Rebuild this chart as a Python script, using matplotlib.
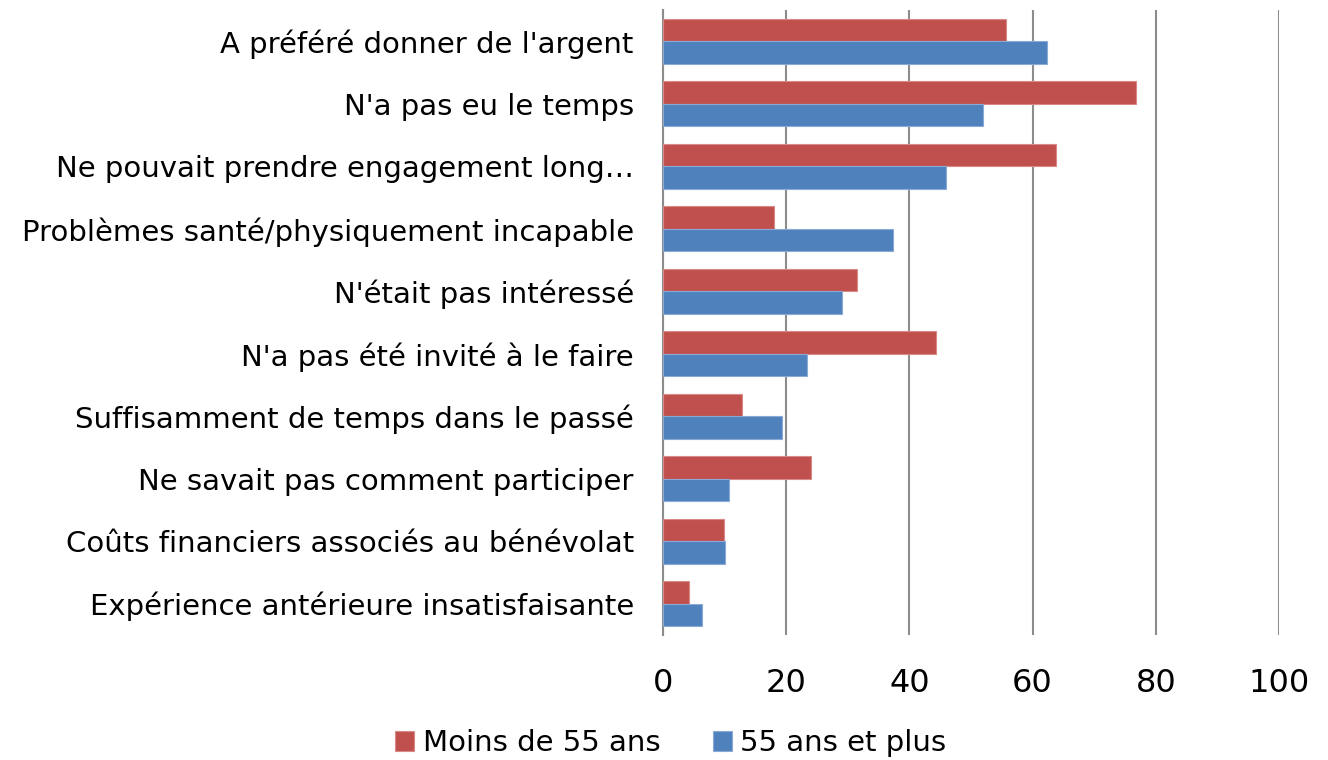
import numpy as np
import matplotlib
matplotlib.use("Agg")
import matplotlib.pyplot as plt

categories = [
    "A préféré donner de l'argent",
    "N'a pas eu le temps",
    "Ne pouvait prendre engagement long…",
    "Problèmes santé/physiquement incapable",
    "N'était pas intéressé",
    "N'a pas été invité à le faire",
    "Suffisamment de temps dans le passé",
    "Ne savait pas comment participer",
    "Coûts financiers associés au bénévolat",
    "Expérience antérieure insatisfaisante",
]
moins_55 = [55.7, 76.8, 63.8, 18.0, 31.5, 44.3, 12.8, 24.0, 9.9, 4.2]
plus_55 = [62.3, 52.0, 46.0, 37.3, 29.1, 23.4, 19.3, 10.7, 10.1, 6.3]
series_names = ["Moins de 55 ans", "55 ans et plus"]
colors = ["#C0504D", "#4F81BD"]

plt.rcParams["font.family"] = ["DejaVu Sans"]

fig = plt.figure(figsize=(13.28, 7.6), dpi=100)
ax = fig.add_axes([0.4992, 0.1645, 0.4639, 0.8223])

y = np.arange(len(categories))
h = 0.36
ax.barh(y - h / 2, moins_55, height=h, color=colors[0], edgecolor="#d98a88",
        linewidth=0.8, label=series_names[0], zorder=3)
ax.barh(y + h / 2, plus_55, height=h, color=colors[1], edgecolor="#8aaad6",
        linewidth=0.8, label=series_names[1], zorder=3)

ax.set_ylim(len(categories) - 0.5, -0.5)
ax.set_xlim(0, 100)
ax.set_xticks([0, 20, 40, 60, 80, 100])
ax.set_yticks(y)
ax.set_yticklabels(categories, fontsize=21)
ax.tick_params(axis="x", labelsize=23, length=0, pad=24)
ax.tick_params(axis="y", length=0, pad=21)

ax.grid(axis="x", color="#8c8c8c", linewidth=1.5, zorder=0)
for s in ["top", "right", "bottom"]:
    ax.spines[s].set_visible(False)
ax.spines["left"].set_color("#8c8c8c")
ax.spines["left"].set_linewidth(1.5)

fig.legend(loc="center", bbox_to_anchor=(0.505, 0.022), ncol=2, frameon=False,
           fontsize=21, handlelength=0.65, handleheight=0.65, handletextpad=0.3,
           columnspacing=1.8)

fig.savefig("out.png", dpi=100)
